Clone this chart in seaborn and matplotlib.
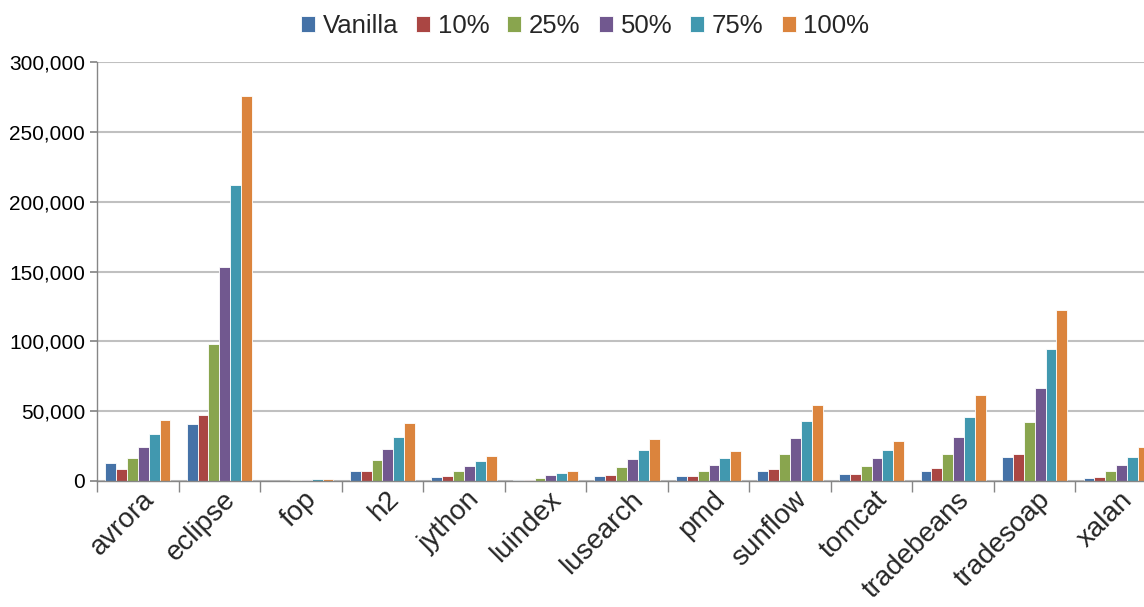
import numpy as np
import pandas as pd
import matplotlib
matplotlib.use("Agg")
import matplotlib.pyplot as plt
import matplotlib.ticker as mticker
import matplotlib.transforms as mtransforms
import seaborn as sns

categories = ["avrora", "eclipse", "fop", "h2", "jython", "luindex", "lusearch",
              "pmd", "sunflow", "tomcat", "tradebeans", "tradesoap", "xalan"]
series_names = ["Vanilla", "10%", "25%", "50%", "75%", "100%"]

vanilla = [12900, 41000, 200, 7000, 3000, 500, 3600, 3300, 7100, 5000, 7500, 17000, 2500]
pct10   = [8300, 47000, 300, 7200, 3500, 1000, 4300, 3300, 8800, 5000, 9000, 19500, 3000]
pct25   = [16400, 98300, 600, 15000, 7000, 2500, 9800, 7400, 19300, 10500, 19000, 41900, 7000]
pct50   = [24500, 153000, 900, 22800, 10500, 4000, 15500, 11400, 30500, 16200, 31400, 66900, 11500]
pct75   = [33300, 211800, 1200, 31400, 14500, 5500, 22100, 16200, 43000, 22400, 45900, 94200, 17400]
pct100  = [43500, 275600, 1500, 41600, 17800, 7000, 30000, 21200, 54500, 28800, 61400, 122600, 24500]

colors = ["#4572A7", "#AA4643", "#89A54E", "#71588F", "#4198AF", "#DB843D"]

values = [vanilla, pct10, pct25, pct50, pct75, pct100]
rows = []
for name, vals in zip(series_names, values):
    for c, v in zip(categories, vals):
        rows.append({"benchmark": c, "series": name, "value": v})
df = pd.DataFrame(rows)

sns.set_theme(style="white")
plt.rcParams["font.family"] = ["Liberation Sans", "DejaVu Sans"]

fig = plt.figure(figsize=(11.44, 6.07), dpi=100)
W, H = 1144, 607
ax = fig.add_axes([97 / W, (H - 481) / H, 1060 / W, (481 - 62) / H])

sns.barplot(data=df, x="benchmark", y="value", hue="series", order=categories,
            hue_order=series_names, palette=colors, width=0.8, ax=ax,
            edgecolor="white", linewidth=0.6, saturation=1, errorbar=None)

ax.set_xlim(-0.5, len(categories) - 0.5)
ax.set_ylim(0, 300000)
ax.set_yticks(np.arange(0, 300001, 50000))
ax.yaxis.set_major_formatter(mticker.FuncFormatter(lambda v, p: f"{int(v):,}"))
ax.grid(axis="y", color="#c0c0c0", linewidth=1.5)
ax.set_axisbelow(True)
ax.set_xlabel("")
ax.set_ylabel("")

for s in ["top", "right"]:
    ax.spines[s].set_visible(False)
for s in ["left", "bottom"]:
    ax.spines[s].set_color("#868686")
    ax.spines[s].set_linewidth(1.0)

ax.tick_params(axis="y", which="major", length=5, color="#868686", labelsize=15,
               left=True, direction="out", pad=3.5, labelcolor="black")
ax.set_xticks(np.arange(len(categories)))
ax.set_xticklabels(categories, rotation=45, ha="right", rotation_mode="anchor",
                   fontsize=20)
ax.tick_params(axis="x", which="major", length=0, pad=4)
offset = mtransforms.ScaledTranslation(3 / 100, 0, fig.dpi_scale_trans)
for lbl in ax.get_xticklabels():
    lbl.set_transform(lbl.get_transform() + offset)
ax.set_xticks(np.arange(-0.5, len(categories) - 0.4, 1.0), minor=True)
ax.tick_params(axis="x", which="minor", length=8, color="#868686", bottom=True,
               direction="out")

handles, labels = ax.get_legend_handles_labels()
ax.legend(handles, labels, loc="upper center", bbox_to_anchor=(585 / W, 1.0),
          bbox_transform=fig.transFigure, ncol=6, frameon=False, fontsize=18.5,
          handlelength=0.55, handleheight=0.55, handletextpad=0.3, columnspacing=0.7,
          borderaxespad=0.15)

fig.savefig("out.png", dpi=100)
